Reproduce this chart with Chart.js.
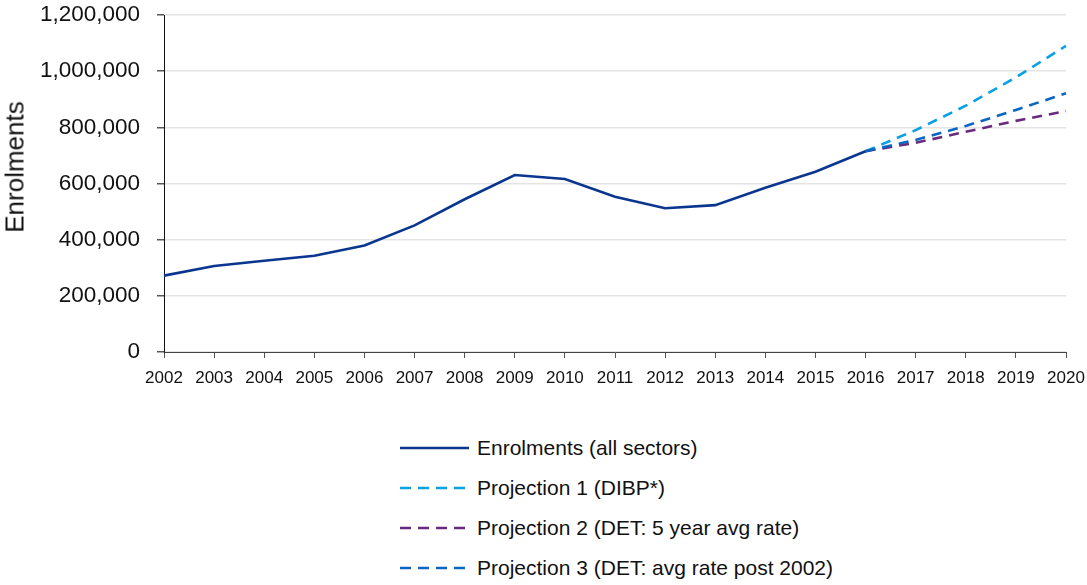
<!DOCTYPE html>
<html>
<head>
<meta charset="utf-8">
<script src="https://cdn.jsdelivr.net/npm/chart.js@4"></script>
<style>
  body { margin: 0; background: #fff; font-family: "Liberation Sans", Arial, sans-serif; }
  #wrap { position: relative; width: 1087px; height: 585px; }
  #box { position: absolute; left: 0; top: 0; width: 1087px; height: 400px; }
  #titulo-y { position: absolute; left: 15px; top: 167px; transform: translate(-50%, -50%) rotate(-90deg);
              font-size: 26px; color: #111; white-space: nowrap; }
  #legenda { position: absolute; left: 400px; top: 428px; }
  .item { height: 40px; display: flex; align-items: center; font-size: 21px; color: #111; }
  .item svg { margin-right: 8px; }
</style>
</head>
<body>
<div id="wrap">
  <div id="box"><canvas id="grafico"></canvas></div>
  <div id="titulo-y">Enrolments</div>
  <div id="legenda"></div>
</div>
<script>
// Dados
var anos = ['2002','2003','2004','2005','2006','2007','2008','2009','2010','2011',
            '2012','2013','2014','2015','2016','2017','2018','2019','2020'];
var matriculas = [272000, 306000, 325000, 343000, 379000, 451000, 544000, 630000, 616000, 553000,
                  512000, 523000, 585000, 642000, 715000, null, null, null, null];
var projecao1 = [null, null, null, null, null, null, null, null, null, null,
                 null, null, null, null, 715000, 790000, 877000, 978000, 1090000];
var projecao2 = [null, null, null, null, null, null, null, null, null, null,
                 null, null, null, null, 715000, 745000, 784000, 823000, 858000];
var projecao3 = [null, null, null, null, null, null, null, null, null, null,
                 null, null, null, null, 715000, 755000, 805000, 862000, 921000];
var rotulos = ['Enrolments (all sectors)', 'Projection 1 (DIBP*)',
               'Projection 2 (DET: 5 year avg rate)', 'Projection 3 (DET: avg rate post 2002)'];

var cores = ['#0a3690', '#0aa0e4', '#6a2a7e', '#0a66c4'];
var tracos = [[], [10, 7], [10, 7], [10, 7]];

function serie(i, dados) {
    return {
        label: rotulos[i],
        data: dados,
        borderColor: cores[i],
        backgroundColor: cores[i],
        borderWidth: 2.6,
        borderDash: tracos[i],
        pointRadius: 0,
        tension: 0,
        spanGaps: false
    };
}

var ctx = document.getElementById('grafico').getContext('2d');
var myChart = new Chart(ctx, {
    type: 'line',
    data: {
        labels: anos,
        datasets: [serie(0, matriculas), serie(3, projecao3), serie(2, projecao2), serie(1, projecao1)]
    },
    options: {
        responsive: true,
        maintainAspectRatio: false,
        animation: false,
        layout: { padding: { top: 15, right: 21, left: 0, bottom: 0 } },
        plugins: { legend: { display: false }, tooltip: { enabled: false } },
        scales: {
            x: {
                grid: { drawOnChartArea: false, drawTicks: true, tickLength: 6, tickColor: '#555' },
                border: { color: '#444', width: 1 },
                ticks: { color: '#111', font: { family: 'Liberation Sans', size: 17 }, padding: 10,
                         maxRotation: 0, autoSkip: false },
                afterFit: function (s) { s.height = 48; s.paddingLeft = 0; s.paddingRight = 0; }
            },
            y: {
                min: 0,
                max: 1200000,
                ticks: {
                    stepSize: 200000,
                    color: '#111',
                    padding: 17,
                    font: { family: 'Liberation Sans', size: 22.5 },
                    callback: function (v) { return v.toLocaleString('en-US'); }
                },
                grid: { color: '#e4e4e4', lineWidth: 1.5, tickLength: 7, tickColor: '#555' },
                border: { color: '#111', width: 1 },
                afterFit: function (s) { s.width = 164; s.paddingTop = 0; s.paddingBottom = 0; }
            }
        }
    }
});

// Legenda em HTML, um item por linha
var legenda = document.getElementById('legenda');
for (var i = 0; i < rotulos.length; i++) {
    var dash = tracos[i].length ? 'stroke-dasharray="11 7"' : '';
    var larg = tracos[i].length ? 65 : 69;
    var linha = document.createElement('div');
    linha.className = 'item';
    linha.innerHTML = '<svg width="69" height="6"><line x1="0" y1="3" x2="' + larg + '" y2="3" stroke="' + cores[i] +
        '" stroke-width="2.6" ' + dash + '/></svg><span>' + rotulos[i] + '</span>';
    legenda.appendChild(linha);
}
</script>
</body>
</html>
